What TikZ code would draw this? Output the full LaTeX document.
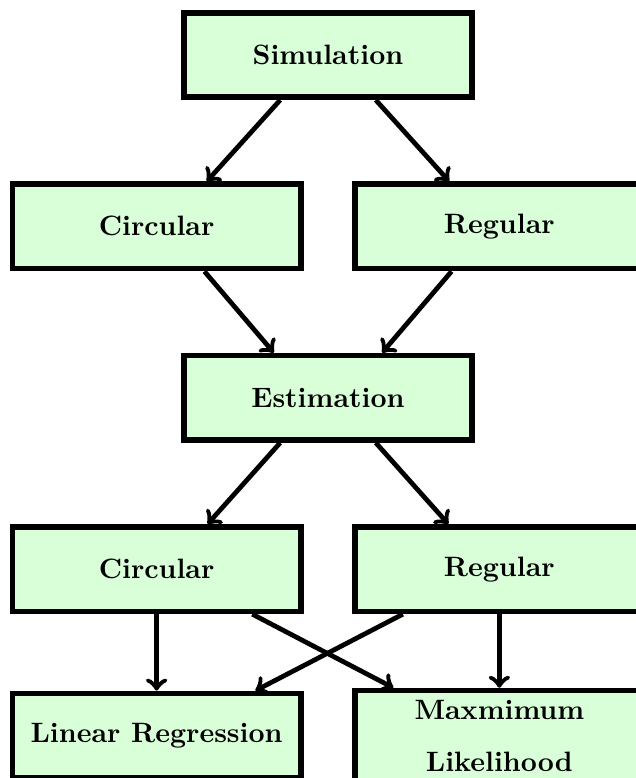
\documentclass[tikz,border=0pt]{standalone}
\usetikzlibrary{positioning, arrows}

\begin{document}
\begin{tikzpicture}[node distance=2.15cm and 2.15cm, on grid,
  box/.style={draw, line width=2pt, fill=green!15, minimum width=3.62cm,
    minimum height=1.06cm, font=\bfseries, align=center},
  link/.style={->, line width=1.7pt}]
\useasboundingbox (-4.115,0.69) rectangle (3.864,-9.071);
\node[box] (sim) {Simulation};
\node[box, below left=of sim] (circA) {Circular};
\node[box, below right=of sim] (regA) {Regular};
\node[box, below right=of circA] (est) {Estimation};
\node[box, below left=of est] (circB) {Circular};
\node[box, below right=of est] (regB) {Regular};
\node[box, below=2.09cm of circB] (linreg) {Linear Regression};
\node[box, below=2.09cm of regB] (mle) {Maxmimum\\[6.6pt]Likelihood};

\draw[link] ([xshift=-0.6cm]sim.south) -- ([xshift=0.63cm]circA.north);
\draw[link] ([xshift=0.6cm]sim.south) -- ([xshift=-0.63cm]regA.north);
\draw[link] ([xshift=0.6cm]circA.south) -- ([xshift=-0.68cm]est.north);
\draw[link] ([xshift=-0.6cm]regA.south) -- ([xshift=0.68cm]est.north);
\draw[link] ([xshift=-0.6cm]est.south) -- ([xshift=0.64cm]circB.north);
\draw[link] ([xshift=0.6cm]est.south) -- ([xshift=-0.64cm]regB.north);
\draw[link] (circB.south) -- (linreg.north);
\draw[link] (regB.south) -- (mle.north);
\draw[link] ([xshift=1.2cm]circB.south) -- ([xshift=-1.33cm]mle.north);
\draw[link] ([xshift=-1.21cm]regB.south) -- ([xshift=1.24cm]linreg.north);
\end{tikzpicture}
\end{document}
